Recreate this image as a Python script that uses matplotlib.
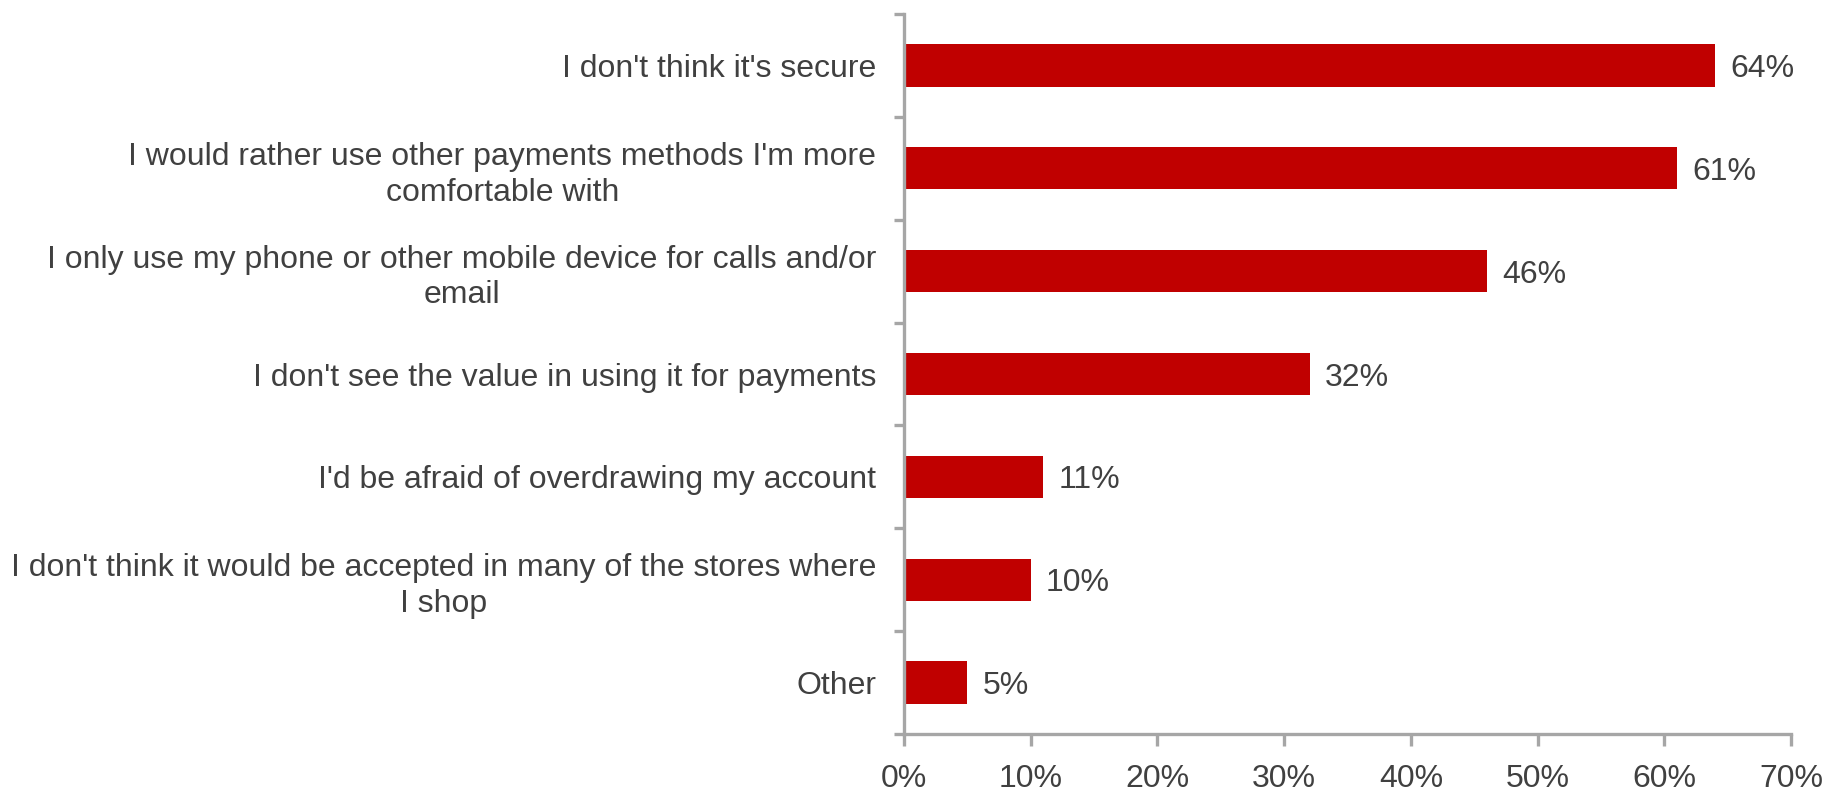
import numpy as np
import matplotlib
matplotlib.use("Agg")
import matplotlib.pyplot as plt
from matplotlib.ticker import PercentFormatter, FixedLocator

# Reasons for not using mobile payments (share of respondents, %)
reasons = [
    "I don't think it's secure",
    "I would rather use other payments methods I'm more\ncomfortable with",
    "I only use my phone or other mobile device for calls and/or\nemail",
    "I don't see the value in using it for payments",
    "I'd be afraid of overdrawing my account",
    "I don't think it would be accepted in many of the stores where\nI shop",
    "Other",
]
shares = [64, 61, 46, 32, 11, 10, 5]
x_ticks = [0, 10, 20, 30, 40, 50, 60, 70]

BAR_RED = "#C00000"
TEXT = "#404040"
AXIS = "#A6A6A6"

plt.rcParams["font.family"] = ["Liberation Sans", "DejaVu Sans"]
plt.rcParams["font.size"] = 23

fig = plt.figure(figsize=(18.37, 7.93), dpi=100)
ax = fig.add_axes([0.4921, 0.0744, 0.975 - 0.4921, 0.9823 - 0.0744])

y = np.arange(len(reasons))
bars = ax.barh(y, shares, height=0.41, color=BAR_RED)
value_labels = ax.bar_label(bars, labels=[f"{v}%" for v in shares],
                            padding=11, color=TEXT, fontsize=23)
for t in value_labels:
    t.set_va("center_baseline")

ax.set_xlim(0, 70)
ax.set_ylim(len(reasons) - 0.5, -0.5)

ax.set_xticks(x_ticks)
ax.xaxis.set_major_formatter(PercentFormatter(decimals=0))
ax.set_yticks(y)
ax.set_yticklabels(reasons, multialignment="center", linespacing=1.25)
# category dividers drawn as minor ticks on the value axis line
ax.yaxis.set_minor_locator(FixedLocator(np.arange(-0.5, len(reasons), 1.0)))

for side in ("top", "right"):
    ax.spines[side].set_visible(False)
for side in ("left", "bottom"):
    ax.spines[side].set_color(AXIS)
    ax.spines[side].set_linewidth(2.4)

ax.tick_params(axis="x", length=8.5, width=2.4, color=AXIS,
               labelcolor=TEXT, pad=13)
ax.tick_params(axis="y", which="major", length=0, labelcolor=TEXT, pad=20)
ax.tick_params(axis="y", which="minor", length=7.5, width=2.4, color=AXIS)

fig.savefig("out.png", dpi=100)
